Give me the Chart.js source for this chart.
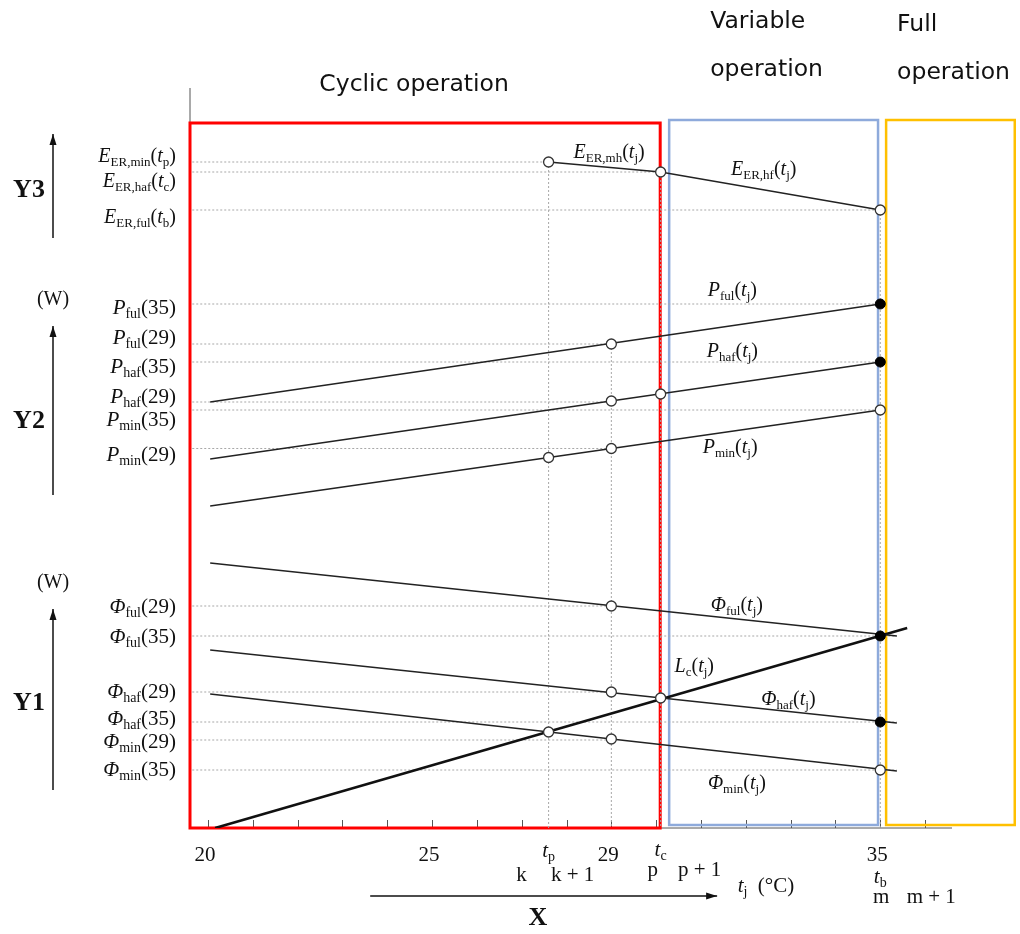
<!DOCTYPE html>
<html>
<head>
<meta charset="utf-8">
<script src="https://cdn.jsdelivr.net/npm/chart.js@4.4.0/dist/chart.umd.min.js"></script>
<style>
  body { margin: 0; background: #fff; }
  canvas { display: block; }
</style>
</head>
<body>
<canvas id="diagram" width="1020" height="934"></canvas>
<script>
// ---- temperatures on the x axis (°C) ----
const tp = 27.6;      // t_p
const tc = 30.1;      // t_c
const tb = 35;        // t_b
const xStart = 20.05; // where the curves start
const xTail = 35.37;  // phi lines run a bit past 35
const xTicks = [20, 21, 22, 23, 24, 25, 26, 27, 28, 29, 30, 31, 32, 33, 34, 35, 36];
const xTickLabels = [20, 25, 29, 35];

// ---- Y3 : EER ----
const eerX = [tp, tc, tb];
const eerY = [66.6, 65.6, 61.8];

// ---- Y2 : power input (W) ----
const pX = [xStart, 35];
const pFul = [42.6, 52.4];
const pHaf = [36.9, 46.6];
const pMin = [32.2, 41.8];

// ---- Y1 : capacity (W) ----
const phiX = [xStart, xTail];
const phiFul = [26.5, 19.2];
const phiHaf = [17.8, 10.5];
const phiMin = [13.4, 5.7];
const lcX = [20.16, 35.6];
const lcY = [0, 20];

// marker points
const openX = [tp, tc, 35, 29, 29, tc, tp, 29, 35, 29, 29, tc, tp, 29, 35];
const openY = [66.6, 65.6, 61.8, 48.4, 42.7, 43.4, 37.05, 37.95, 41.8, 22.2, 13.6, 13.0, 9.6, 8.9, 5.8];
const fullX = [35, 35, 35, 35];
const fullY = [52.4, 46.6, 19.2, 10.6];

// dotted guide lines: horizontal (level, end) and vertical (position, top)
const guideLevel = [66.6, 65.6, 61.8, 52.4, 48.4, 46.6, 42.6, 41.8, 37.95, 22.2, 19.2, 13.6, 10.6, 8.8, 5.8];
const guideEnd   = [tp, tc, 35, 35, 29, 35, 29, 35, 29, 29, xTail, 29, xTail, 29, xTail];
const guideX   = [tp, 29, tc, 35];
const guideTop = [66.6, 48.4, 65.6, 61.8];

// left labels and their heights
const y3Labels = ['E_{ER,min}(t_{p})', 'E_{ER,haf}(t_{c})', 'E_{ER,ful}(t_{b})'];
const y3LabelY = [67.1, 64.6, 61.0];
const y2Labels = ['P_{ful}(35)', 'P_{ful}(29)', 'P_{haf}(35)', 'P_{haf}(29)', 'P_{min}(35)', 'P_{min}(29)'];
const y2LabelY = [52.0, 49.0, 46.1, 43.1, 40.8, 37.3];
const y1Labels = ['Φ_{ful}(29)', 'Φ_{ful}(35)', 'Φ_{haf}(29)', 'Φ_{haf}(35)', 'Φ_{min}(29)', 'Φ_{min}(35)'];
const y1LabelY = [22.1, 19.1, 13.6, 10.9, 8.6, 5.8];

// curve names inside the plot
const curveNames = ['E_{ER,mh}(t_{j})', 'E_{ER,hf}(t_{j})', 'P_{ful}(t_{j})', 'P_{haf}(t_{j})', 'P_{min}(t_{j})',
                    'Φ_{ful}(t_{j})', 'L_{c}(t_{j})', 'Φ_{haf}(t_{j})', 'Φ_{min}(t_{j})'];
const curveNameX = [28.95, 32.4, 31.7, 31.7, 31.65, 31.8, 30.85, 32.95, 31.8];
const curveNameY = [67.5, 65.8, 53.7, 47.6, 38.0, 22.2, 16.1, 12.8, 4.4];

// operation regions [x0, x1, y0, y1]
const regions = [
  { name: ['Cyclic operation'], box: [19.6, 30.09, 0, 70.5], color: '#ff0000', width: 3 },
  { name: ['Variable', 'operation'], box: [30.29, 34.95, 0.3, 70.8], color: '#8eaadb', width: 2.5 },
  { name: ['Full', 'operation'], box: [35.13, 38.0, 0.3, 70.8], color: '#ffc000', width: 2.5 }
];

const toPts = (xs, ys) => xs.map((x, i) => ({ x: x, y: ys[i] }));

const datasets = [];
datasets.push({ data: toPts(fullX, fullY), pointRadius: 5, pointBackgroundColor: '#000', pointBorderColor: '#000', showLine: false, order: 0 });
datasets.push({ data: toPts(openX, openY), pointRadius: 5, pointBackgroundColor: '#fff', pointBorderColor: '#333', pointBorderWidth: 1.3, showLine: false, order: 0 });
[[eerX, eerY], [pX, pFul], [pX, pHaf], [pX, pMin], [phiX, phiFul], [phiX, phiHaf], [phiX, phiMin]].forEach(s => {
  datasets.push({ data: toPts(s[0], s[1]), showLine: true, borderColor: '#222', borderWidth: 1.4, pointRadius: 0, order: 1 });
});
datasets.push({ data: toPts(lcX, lcY), showLine: true, borderColor: '#111', borderWidth: 2.6, pointRadius: 0, order: 1 });
guideLevel.forEach((lv, i) => {
  datasets.push({ data: [{ x: 19.65, y: lv }, { x: guideEnd[i], y: lv }], showLine: true, borderColor: '#a8a8a8', borderWidth: 1, borderDash: [2, 2], pointRadius: 0, order: 2 });
});
guideX.forEach((gx, i) => {
  datasets.push({ data: [{ x: gx, y: guideTop[i] }, { x: gx, y: 0 }], showLine: true, borderColor: '#a8a8a8', borderWidth: 1, borderDash: [2, 2], pointRadius: 0, order: 2 });
});

// small math text: _{..} is a subscript, letters are italic, [..] is upright
function drawMath(ctx, str, x, y, align, size) {
  const runs = [];
  let i = 0;
  while (i < str.length) {
    if (str[i] === '_' && str[i + 1] === '{') {
      const j = str.indexOf('}', i);
      runs.push({ t: str.slice(i + 2, j), sub: true });
      i = j + 1;
    } else if (str[i] === '[') {
      const j = str.indexOf(']', i);
      runs.push({ t: str.slice(i + 1, j), it: false, sub: false, fixed: true });
      i = j + 1;
    } else {
      const ch = str[i];
      const it = /[A-Za-zΦ]/.test(ch);
      const last = runs[runs.length - 1];
      if (last && !last.sub && !last.fixed && last.it === it) last.t += ch;
      else runs.push({ t: ch, it: it, sub: false });
      i++;
    }
  }
  const fontFor = r => r.sub ? Math.round(size * 0.66) + 'px "Liberation Serif"'
                             : (r.it ? 'italic ' : '') + size + 'px "Liberation Serif"';
  let w = 0;
  runs.forEach(r => { ctx.font = fontFor(r); r.w = ctx.measureText(r.t).width; w += r.w; });
  let cx = align === 'right' ? x - w : align === 'center' ? x - w / 2 : x;
  ctx.textAlign = 'left';
  ctx.textBaseline = 'middle';
  runs.forEach(r => {
    ctx.font = fontFor(r);
    ctx.fillText(r.t, cx, r.sub ? y + size * 0.3 : y);
    cx += r.w;
  });
}

function arrow(ctx, x0, y0, x1, y1) {
  ctx.beginPath(); ctx.moveTo(x0, y0); ctx.lineTo(x1, y1); ctx.stroke();
  const a = Math.atan2(y1 - y0, x1 - x0);
  ctx.beginPath();
  ctx.moveTo(x1, y1);
  ctx.lineTo(x1 - 11 * Math.cos(a) + 3.5 * Math.sin(a), y1 - 11 * Math.sin(a) - 3.5 * Math.cos(a));
  ctx.lineTo(x1 - 11 * Math.cos(a) - 3.5 * Math.sin(a), y1 - 11 * Math.sin(a) + 3.5 * Math.cos(a));
  ctx.closePath(); ctx.fill();
}

const framePlugin = {
  id: 'frame',
  beforeDatasetsDraw(chart) {
    const { ctx, scales: { x, y } } = chart;
    ctx.save();
    ctx.strokeStyle = '#555';
    ctx.lineWidth = 1;
    ctx.beginPath();
    ctx.moveTo(x.getPixelForValue(19.6), y.getPixelForValue(74));
    ctx.lineTo(x.getPixelForValue(19.6), y.getPixelForValue(0));
    ctx.lineTo(x.getPixelForValue(36.6), y.getPixelForValue(0));
    ctx.stroke();
    const y0 = y.getPixelForValue(0);
    xTicks.forEach(t => {
      const px = Math.round(x.getPixelForValue(t)) + 0.5;
      ctx.beginPath(); ctx.moveTo(px, y0); ctx.lineTo(px, y0 - 8); ctx.stroke();
    });
    // region boxes + names (under the curves and markers)
    regions.forEach((r, k) => {
      const x0 = x.getPixelForValue(r.box[0]), x1 = x.getPixelForValue(r.box[1]);
      const yb = y.getPixelForValue(r.box[2]), yt = y.getPixelForValue(r.box[3]);
      ctx.strokeStyle = r.color;
      ctx.lineWidth = r.width;
      ctx.strokeRect(x0, yt, x1 - x0, yb - yt);
      ctx.fillStyle = '#111';
      ctx.font = '23.5px "DejaVu Sans"';
      ctx.textBaseline = 'middle';
      if (k === 0) {
        ctx.textAlign = 'center';
        ctx.fillText(r.name[0], (x0 + x1) / 2 - 11, 85);
      } else {
        ctx.textAlign = 'left';
        ctx.fillText(r.name[0], x0 + (k === 1 ? 41 : 11), k === 1 ? 22 : 25);
        ctx.fillText(r.name[1], x0 + (k === 1 ? 41 : 11), k === 1 ? 70 : 73);
      }
    });
    ctx.restore();
  },
  afterDatasetsDraw(chart) {
    const { ctx, scales: { x, y } } = chart;
    ctx.save();
    ctx.fillStyle = '#111';
    ctx.strokeStyle = '#111';
    ctx.lineWidth = 1.5;
    // left value labels
    const lx = x.getPixelForValue(19.6) - 14;
    y3Labels.forEach((s, i) => drawMath(ctx, s, lx, y.getPixelForValue(y3LabelY[i]), 'right', 20));
    y2Labels.forEach((s, i) => drawMath(ctx, s, lx, y.getPixelForValue(y2LabelY[i]), 'right', 21));
    y1Labels.forEach((s, i) => drawMath(ctx, s, lx, y.getPixelForValue(y1LabelY[i]), 'right', 21));
    // curve names
    curveNames.forEach((s, i) => drawMath(ctx, s, x.getPixelForValue(curveNameX[i]), y.getPixelForValue(curveNameY[i]), 'center', 20));

    // axis group titles and arrows
    ctx.font = 'bold 26px "Liberation Serif"';
    ctx.textAlign = 'center';
    ctx.textBaseline = 'middle';
    ctx.fillText('Y3', 29, 190);
    ctx.fillText('Y2', 29, 421);
    ctx.fillText('Y1', 29, 703);
    arrow(ctx, 53, 238, 53, 134);
    arrow(ctx, 53, 495, 53, 326);
    arrow(ctx, 53, 790, 53, 609);
    ctx.font = '20px "Liberation Serif"';
    ctx.fillText('(W)', 53, 300);
    ctx.fillText('(W)', 53, 583);

    // x tick labels and marks below the axis
    const yb = y.getPixelForValue(0);
    ctx.font = '21px "Liberation Serif"';
    xTickLabels.forEach(t => {
      ctx.fillText(String(t), x.getPixelForValue(t) - 3, yb + 27);
    });
    drawMath(ctx, 't_{p}', x.getPixelForValue(tp), yb + 23, 'center', 21);
    drawMath(ctx, 't_{c}', x.getPixelForValue(tc), yb + 22, 'center', 21);
    drawMath(ctx, 't_{b}', x.getPixelForValue(tb), yb + 49, 'center', 21);
    ctx.font = '21px "Liberation Serif"';
    ctx.textAlign = 'center';
    ctx.fillText('k', x.getPixelForValue(tp) - 27, yb + 47);
    ctx.fillText('k + 1', x.getPixelForValue(tp) + 24, yb + 47);
    ctx.fillText('p', x.getPixelForValue(tc) - 8, yb + 42);
    ctx.fillText('p + 1', x.getPixelForValue(tc) + 39, yb + 42);
    ctx.fillText('m', x.getPixelForValue(tb) + 1, yb + 69);
    ctx.fillText('m + 1', x.getPixelForValue(tb) + 51, yb + 69);
    drawMath(ctx, 't_{j}[  (°C)]', x.getPixelForValue(tc) + 77, yb + 58, 'left', 21);
    ctx.lineWidth = 1.5;
    arrow(ctx, x.getPixelForValue(23.62), yb + 68, x.getPixelForValue(31.36), yb + 68);
    ctx.font = 'bold 26px "Liberation Serif"';
    ctx.textAlign = 'center';
    ctx.fillText('X', 538, 918);
    ctx.restore();
  }
};

new Chart(document.getElementById('diagram').getContext('2d'), {
  type: 'scatter',
  data: { datasets: datasets },
  options: {
    responsive: false,
    animation: false,
    layout: { padding: { left: 190, right: 68, top: 88, bottom: 106 } },
    plugins: { legend: { display: false }, tooltip: { enabled: false } },
    scales: {
      x: { type: 'linear', min: 19.6, max: 36.6, display: false },
      y: { type: 'linear', min: 0, max: 74, display: false }
    }
  },
  plugins: [framePlugin]
});
</script>
</body>
</html>
